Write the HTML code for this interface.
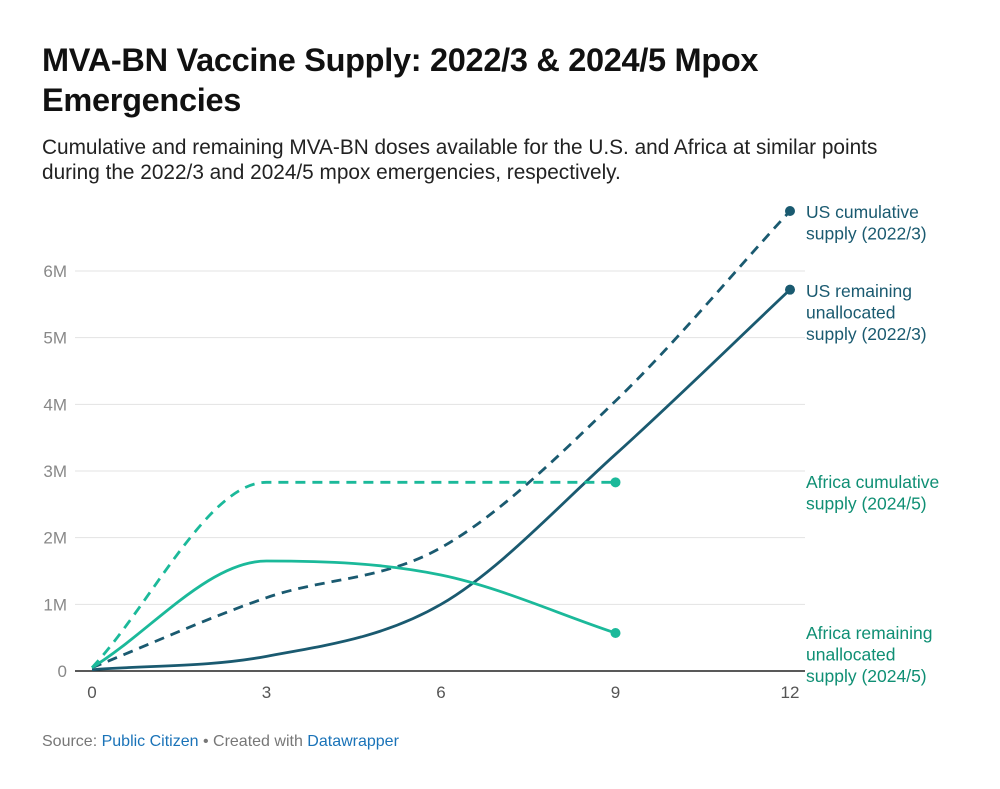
<!DOCTYPE html>
<html><head><meta charset="utf-8">
<style>
body{margin:0;background:#fff;font-family:"Liberation Sans",sans-serif;}
#wrap{position:relative;width:1000px;height:789px;overflow:hidden;}
h1{position:absolute;left:42px;top:40px;margin:0;font-size:32.5px;line-height:40px;font-weight:bold;color:#111;letter-spacing:-0.3px;}
.sub{position:absolute;left:42px;top:135px;margin:0;font-size:20.8px;line-height:25px;color:#222;}
.src{position:absolute;left:42px;top:733px;font-size:16px;color:#777;}
.src a{color:#1a73b8;text-decoration:none;}
svg{position:absolute;left:0;top:0;}
</style></head><body>
<div id="wrap">
<h1>MVA-BN Vaccine Supply: 2022/3 &amp; 2024/5 Mpox<br>Emergencies</h1>
<p class="sub">Cumulative and remaining MVA-BN doses available for the U.S. and Africa at similar points<br>during the 2022/3 and 2024/5 mpox emergencies, respectively.</p>
<svg id="chart" width="1000" height="789"></svg>
<div class="src">Source: <a>Public Citizen</a> • Created with <a>Datawrapper</a></div>
</div>
<script>
const xTicks=[0,3,6,9,12];
const yTicks=[0,1,2,3,4,5,6];
const yTickLabels=["0","1M","2M","3M","4M","5M","6M"];
const usCumX=[0,3,6,9,12];
const usCumY=[0.05,1.1,1.85,4.05,6.9];
const usRemX=[0,3,6,9,12];
const usRemY=[0.02,0.22,1.0,3.25,5.72];
const afCumX=[0,3,6,9];
const afCumY=[0.05,2.83,2.83,2.83];
const afRemX=[0,3,6,9];
const afRemY=[0.05,1.65,1.44,0.57];

const NS="http://www.w3.org/2000/svg";
const svg=document.getElementById('chart');
const X=v=>92+v*(790-92)/12;
const Y=v=>671-v*(400/6);
function mk(t,a,p){const e=document.createElementNS(NS,t);for(const k in a)e.setAttribute(k,a[k]);(p||svg).appendChild(e);return e;}

yTicks.forEach((t,i)=>{
  if(t>0){const g=mk('line',{x1:75,x2:805,y1:Y(t),y2:Y(t),stroke:'#e3e3e3','stroke-width':1});
  
  }
  const l=mk('text',{x:67,y:Y(t)+6,'text-anchor':'end','font-size':17,fill:'#888'});
  l.textContent=yTickLabels[i];
  
  
});
const ax=mk('line',{x1:75,x2:805,y1:671,y2:671,stroke:'#222','stroke-width':1.5});


xTicks.forEach(t=>{
  const l=mk('text',{x:X(t),y:698,'text-anchor':'middle','font-size':17,fill:'#555'});
  l.textContent=t;
  
  
});

function monoPath(xs,ys){
  const px=xs.map(X),py=ys.map(Y),n=px.length;
  const d=[],m=[];
  for(let i=0;i<n-1;i++)d.push((py[i+1]-py[i])/(px[i+1]-px[i]));
  for(let i=0;i<n;i++){
    if(i===0)m.push(d[0]);else if(i===n-1)m.push(d[n-2]);
    else m.push(d[i-1]*d[i]<=0?0:(d[i-1]+d[i])/2);
  }
  for(let i=0;i<n-1;i++){
    if(d[i]===0){m[i]=0;m[i+1]=0;continue;}
    const a=m[i]/d[i],b=m[i+1]/d[i],s=a*a+b*b;
    if(s>9){const t=3/Math.sqrt(s);m[i]=t*a*d[i];m[i+1]=t*b*d[i];}
  }
  let p='M'+px[0]+','+py[0];
  for(let i=0;i<n-1;i++){
    const h=(px[i+1]-px[i])/3;
    p+=' C'+(px[i]+h)+','+(py[i]+m[i]*h)+' '+(px[i+1]-h)+','+(py[i+1]-m[i+1]*h)+' '+px[i+1]+','+py[i+1];
  }
  return p;
}
const series=[
 {name:'us-cumulative',xs:usCumX,ys:usCumY,c:'#1a5a70',dash:'10,7',lab:['US cumulative','supply (2022/3)'],lc:'#1a5a70',ly:218},
 {name:'us-remaining',xs:usRemX,ys:usRemY,c:'#1a5a70',dash:null,lab:['US remaining','unallocated','supply (2022/3)'],lc:'#1a5a70',ly:297},
 {name:'africa-cumulative',xs:afCumX,ys:afCumY,c:'#1bb99a',dash:'10,7',lab:['Africa cumulative','supply (2024/5)'],lc:'#0f8f74',ly:488},
 {name:'africa-remaining',xs:afRemX,ys:afRemY,c:'#1bb99a',dash:null,lab:['Africa remaining','unallocated','supply (2024/5)'],lc:'#0f8f74',ly:639}
];
series.forEach(s=>{
  const a={d:monoPath(s.xs,s.ys),fill:'none',stroke:s.c,'stroke-width':2.8};
  if(s.dash)a['stroke-dasharray']=s.dash;
  const p=mk('path',a);
  
  
  const n=s.xs.length-1;
  const c=mk('circle',{cx:X(s.xs[n]),cy:Y(s.ys[n]),r:5,fill:s.c});
  
  
  const t=mk('text',{x:806,y:s.ly,'font-size':17.5,fill:s.lc});
  
  
  s.lab.forEach((ln,i)=>{const ts=mk('tspan',{x:806,dy:i?21.5:0},t);ts.textContent=ln;});
});
</script>
</body></html>
